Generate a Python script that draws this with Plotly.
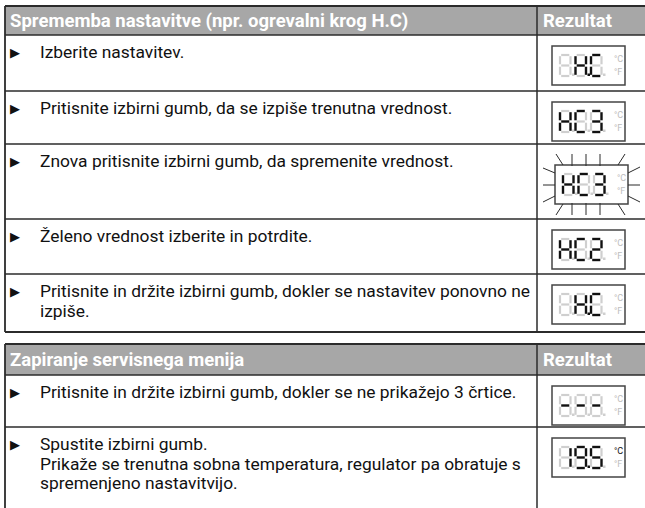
import plotly.graph_objects as go

# ---------------- data ----------------
section_titles = ["Sprememba nastavitve (npr. ogrevalni krog H.C)", "Zapiranje servisnega menija"]
result_header = "Rezultat"
steps_1 = [
    ["Izberite nastavitev."],
    ["Pritisnite izbirni gumb, da se izpiše trenutna vrednost."],
    ["Znova pritisnite izbirni gumb, da spremenite vrednost."],
    ["Želeno vrednost izberite in potrdite."],
    ["Pritisnite in držite izbirni gumb, dokler se nastavitev ponovno ne", "izpiše."],
]
steps_2 = [
    ["Pritisnite in držite izbirni gumb, dokler se ne prikažejo 3 črtice."],
    ["Spustite izbirni gumb.",
     "Prikaže se trenutna sobna temperatura, regulator pa obratuje s",
     "spremenjeno nastavitvijo."],
]
displays_1 = [" H.C", "HC3", "HC3", "HC2", " H.C"]
displays_2 = ["---", "19.5"]
flashing_1 = [False, False, True, False, False]
flashing_2 = [False, False]
unit_on_1 = ["", "", "", "", ""]
unit_on_2 = ["", "C"]

# ---------------- layout constants ----------------
W, H = 645, 508
LEFT, SEP, RIGHT = 5, 537, 645
T1_TOP, T1_HEAD = 6, 35
T1_ROWS = [35, 91, 144, 219, 274, 332]
T2_TOP, T2_HEAD = 344, 375
T2_ROWS = [375, 427, 508]
HEAD_GRAY = "#a7a7a7"
LINE = "#2b2b2b"
ON = "#111111"
OFF = "#cfcfcf"
FONT = "Roboto, 'Liberation Sans', sans-serif"
BODY_SIZE = 17.4
HEAD_SIZE = 18.5
LINE_STEP = 19.5

shapes = []
annotations = []


def line(x0, y0, x1, y1, color=LINE, width=1.5):
    shapes.append(dict(type="line", x0=x0, y0=y0, x1=x1, y1=y1, xref="x", yref="y",
                       line=dict(color=color, width=width)))


SEGS = {
    "8": "abcdefg", "H": "bcefg", "C": "adef", "3": "abcdg", "2": "abdeg",
    "-": "g", "1": "bc", "9": "abcdfg", "5": "acdfg", " ": "",
    "0": "abcdef",
}


def parse_display(s):
    digits = []
    for ch in s:
        if ch == "." and digits:
            digits[-1][1] = True
        else:
            digits.append([ch, False])
    while len(digits) < 3:
        digits.insert(0, [" ", False])
    return digits


def draw_digit(x0, y0, ch, dp, w=10.5, h=21):
    on = SEGS.get(ch, "")
    m = 1.2
    segs = {
        "a": (x0 + m, y0, x0 + w - m, y0),
        "b": (x0 + w, y0 + m, x0 + w, y0 + h / 2 - m),
        "c": (x0 + w, y0 + h / 2 + m, x0 + w, y0 + h - m),
        "d": (x0 + m, y0 + h, x0 + w - m, y0 + h),
        "e": (x0, y0 + h / 2 + m, x0, y0 + h - m),
        "f": (x0, y0 + m, x0, y0 + h / 2 - m),
        "g": (x0 + m, y0 + h / 2, x0 + w - m, y0 + h / 2),
    }
    for k in "abcdefg":
        if k not in on:
            line(*segs[k], color=OFF, width=2.2)
    for k in "abcdefg":
        if k in on:
            line(*segs[k], color=ON, width=2.4)
    shapes.append(dict(type="rect", x0=x0 + w + 1.5, x1=x0 + w + 4, y0=y0 + h - 2.5, y1=y0 + h,
                       xref="x", yref="y", line=dict(width=0),
                       fillcolor=ON if dp else OFF))


def draw_display(bx, by, code, unit_on, flash=False):
    bw, bh = 73, 39
    shapes.append(dict(type="rect", x0=bx, x1=bx + bw, y0=by, y1=by + bh, xref="x", yref="y",
                       line=dict(color="#444444", width=1.5), fillcolor="white"))
    digits = parse_display(code)
    for i, (ch, dp) in enumerate(digits):
        draw_digit(bx + 8 + i * 15.5, by + 9, ch, dp)
    for j, u in enumerate(["C", "F"]):
        annotations.append(dict(x=bx + 66, y=by + 13 + j * 12.5, xref="x", yref="y",
                                text="°" + u, showarrow=False,
                                font=dict(family=FONT, size=9,
                                          color=ON if unit_on == u else "#bdbdbd")))
    if flash:
        cx0, cx1, cy0, cy1 = bx, bx + bw, by, by + bh
        L = 11
        for xx in [bx + 17, bx + 31, bx + 45]:
            line(xx, cy0 - L, xx, cy0 + 1, color=LINE, width=1)
            line(xx, cy1 - 1, xx, cy1 + L, color=LINE, width=1)
        line(cx0 + 8, cy0, cx0 + 1, cy0 - L, color=LINE, width=1)
        line(cx1 - 10, cy0, cx1 - 3, cy0 - L, color=LINE, width=1)
        line(cx0 + 8, cy1, cx0 + 1, cy1 + L, color=LINE, width=1)
        line(cx1 - 10, cy1, cx1 - 3, cy1 + L, color=LINE, width=1)
        line(cx0, cy0 + 8, cx0 - 12, cy0 + 3, color=LINE, width=1)
        line(cx0, cy0 + 20, cx0 - 12, cy0 + 20, color=LINE, width=1)
        line(cx0, cy1 - 8, cx0 - 12, cy1 - 2, color=LINE, width=1)
        line(cx1, cy0 + 8, cx1 + 12, cy0 + 2, color=LINE, width=1)
        line(cx1, cy0 + 20, cx1 + 12, cy0 + 20, color=LINE, width=1)
        line(cx1, cy1 - 8, cx1 + 12, cy1 - 2, color=LINE, width=1)


def draw_table(top, head_bottom, rows, title, steps, displays, flashes, units, close_bottom):
    shapes.append(dict(type="rect", x0=LEFT, x1=RIGHT, y0=top, y1=head_bottom, xref="x", yref="y",
                       line=dict(width=0), fillcolor=HEAD_GRAY, layer="below"))
    for tx, t in [(LEFT + 3, title), (SEP + 4, result_header)]:
        annotations.append(dict(x=tx, y=(top + head_bottom) / 2 + 0.5, xref="x", yref="y",
                                xanchor="left", yanchor="middle", text="<b>" + t + "</b>",
                                showarrow=False,
                                font=dict(family=FONT, size=HEAD_SIZE, color="white")))
    line(LEFT, top, RIGHT, top, width=1.8)
    bottom = rows[-1]
    line(LEFT, top, LEFT, bottom, width=1.8)
    line(SEP, top, SEP, bottom, width=1.5)
    for y in rows[:-1]:
        line(LEFT, y, RIGHT, y, width=1.5)
    if close_bottom:
        line(LEFT, bottom, RIGHT, bottom, width=2.2)
    for i, lines_ in enumerate(steps):
        rt = rows[i]
        annotations.append(dict(x=8, y=rt + 17, xref="x", yref="y", xanchor="left",
                                yanchor="middle", text="▶", showarrow=False,
                                font=dict(family="DejaVu Sans", size=13, color="#111111")))
        for k, txt in enumerate(lines_):
            annotations.append(dict(x=38, y=rt + 17 + k * LINE_STEP, xref="x", yref="y",
                                    xanchor="left", yanchor="middle", align="left", text=txt,
                                    showarrow=False,
                                    font=dict(family=FONT, size=BODY_SIZE, color="#111111")))
        if flashes[i]:
            draw_display(555, rt + 21, displays[i], units[i], True)
        else:
            draw_display(552, rt + 11, displays[i], units[i], False)


draw_table(T1_TOP, T1_HEAD, T1_ROWS, section_titles[0], steps_1, displays_1, flashing_1, unit_on_1, True)
draw_table(T2_TOP, T2_HEAD, T2_ROWS, section_titles[1], steps_2, displays_2, flashing_2, unit_on_2, False)

fig = go.Figure()
fig.add_trace(go.Scatter(x=[0, W], y=[0, H], mode="markers", marker=dict(opacity=0),
                         hoverinfo="skip", showlegend=False))
fig.update_layout(
    width=W, height=H, autosize=False,
    margin=dict(l=0, r=0, t=0, b=0, pad=0),
    paper_bgcolor="white", plot_bgcolor="white",
    xaxis=dict(range=[0, W], visible=False, fixedrange=True),
    yaxis=dict(range=[H, 0], visible=False, fixedrange=True),
    shapes=shapes, annotations=annotations, showlegend=False,
)
fig.write_html("out.html", config={"displayModeBar": False},
               post_script="document.body.style.margin='0';document.body.style.overflow='hidden';")
